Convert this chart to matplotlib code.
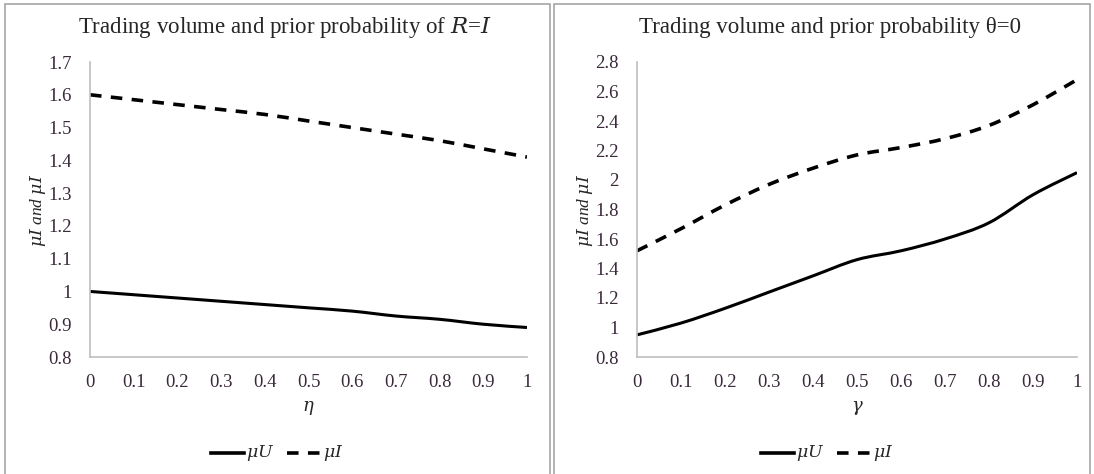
import matplotlib
matplotlib.use("Agg")
import matplotlib.pyplot as plt
from matplotlib.patches import Rectangle, PathPatch
from matplotlib.path import Path
from matplotlib.lines import Line2D

# Data
x_vals = [0, 0.1, 0.2, 0.3, 0.4, 0.5, 0.6, 0.7, 0.8, 0.9, 1]
x_tick_labels = ["0", "0.1", "0.2", "0.3", "0.4", "0.5", "0.6", "0.7", "0.8", "0.9", "1"]

eta_mu_u = [1.00, 0.99, 0.98, 0.97, 0.96, 0.95, 0.94, 0.925, 0.915, 0.90, 0.89]
eta_mu_i = [1.60, 1.585, 1.57, 1.555, 1.54, 1.52, 1.50, 1.48, 1.46, 1.435, 1.41]

gamma_mu_u = [0.95, 1.03, 1.13, 1.24, 1.35, 1.46, 1.52, 1.60, 1.71, 1.90, 2.05]
gamma_mu_i = [1.52, 1.67, 1.83, 1.97, 2.08, 2.17, 2.22, 2.28, 2.37, 2.51, 2.68]

left_yticks = [0.8, 0.9, 1, 1.1, 1.2, 1.3, 1.4, 1.5, 1.6, 1.7]
left_ylabels = ["0.8", "0.9", "1", "1.1", "1.2", "1.3", "1.4", "1.5", "1.6", "1.7"]
right_yticks = [0.8, 1, 1.2, 1.4, 1.6, 1.8, 2, 2.2, 2.4, 2.6, 2.8]
right_ylabels = ["0.8", "1", "1.2", "1.4", "1.6", "1.8", "2", "2.2", "2.4", "2.6", "2.8"]

plt.rcParams["font.family"] = ["Liberation Serif", "DejaVu Serif"]
plt.rcParams["mathtext.fontset"] = "dejavuserif"

W, H = 1094, 474
fig = plt.figure(figsize=(W / 100, H / 100), dpi=100)

# Panel frames
for (x0, x1) in [(5, 550), (554, 1090)]:
    fig.patches.append(Rectangle((x0 / W, -0.01), (x1 - x0) / W, (H - 4) / H + 0.01,
                                 transform=fig.transFigure, fill=False,
                                 edgecolor="#a6a6a6", linewidth=1.2))

text_color = "#262626"
tick_color = "#3a2a3a"
DASH = (0, (3.2, 2.6))


def smooth_path(xs, ys, tension=1 / 6):
    """Cubic Bezier path passing through every point (Catmull-Rom style)."""
    verts = [(xs[0], ys[0])]
    codes = [Path.MOVETO]
    n = len(xs)
    for i in range(n - 1):
        p0 = (xs[max(i - 1, 0)], ys[max(i - 1, 0)])
        p1 = (xs[i], ys[i])
        p2 = (xs[i + 1], ys[i + 1])
        p3 = (xs[min(i + 2, n - 1)], ys[min(i + 2, n - 1)])
        c1 = (p1[0] + (p2[0] - p0[0]) * tension, p1[1] + (p2[1] - p0[1]) * tension)
        c2 = (p2[0] - (p3[0] - p1[0]) * tension, p2[1] - (p3[1] - p1[1]) * tension)
        verts += [c1, c2, p2]
        codes += [Path.CURVE4] * 3
    return Path(verts, codes)


def make_panel(ax_left, ax_right, yticks, ylabels, ymin, ymax, mu_u, mu_i,
               title, xlabel, title_cx, legend_cx):
    top, bottom = 62, 357
    ax = fig.add_axes([ax_left / W, 1 - bottom / H, (ax_right - ax_left) / W,
                       (bottom - top) / H])
    ax.add_patch(PathPatch(smooth_path(x_vals, mu_u), fill=False, edgecolor="black",
                           linewidth=2.2, capstyle="butt"))
    ax.add_patch(PathPatch(smooth_path(x_vals, mu_i), fill=False, edgecolor="black",
                           linewidth=2.6, linestyle=DASH, capstyle="butt"))
    ax.set_xlim(0, 1)
    ax.set_ylim(ymin, ymax)
    ax.set_xticks(x_vals)
    ax.set_xticklabels(x_tick_labels)
    ax.set_yticks(yticks)
    ax.set_yticklabels(ylabels)
    ax.tick_params(length=0, labelsize=13.5, colors=tick_color)
    ax.tick_params(axis="x", pad=12)
    ax.tick_params(axis="y", pad=13)
    for s in ["top", "right"]:
        ax.spines[s].set_visible(False)
    for s in ["left", "bottom"]:
        ax.spines[s].set_color("#bfbfbf")
        ax.spines[s].set_linewidth(1.2)
    ax.set_xlabel(xlabel, fontsize=13, color=text_color, labelpad=6)
    fig.text(ax_left / W - 52 / W, 1 - 210 / H, r"$\mu I$ and $\mu I$",
             rotation=90, ha="center", va="center", fontsize=12.5,
             color=text_color, style="italic")
    fig.text(title_cx / W, 1 - 27 / H, title, ha="center", va="center",
             fontsize=16.5, color=text_color)
    # legend
    ly = 1 - 453 / H
    lx = legend_cx / W
    fig.lines.append(Line2D([lx - 121 / W, lx - 88 / W], [ly, ly],
                            transform=fig.transFigure, color="black", linewidth=2.6))
    fig.text(lx - 86 / W, ly, r"$\mu U$", ha="left", va="center", fontsize=12.5,
             color=text_color)
    fig.lines.append(Line2D([lx - 45 / W, lx - 12 / W], [ly, ly],
                            transform=fig.transFigure, color="black", linewidth=2.6,
                            linestyle=DASH, dash_capstyle="butt"))
    fig.text(lx - 9 / W, ly, r"$\mu I$", ha="left", va="center", fontsize=12.5,
             color=text_color)
    return ax


make_panel(90, 527, left_yticks, left_ylabels, 0.8, 1.7, eta_mu_u, eta_mu_i,
           r"Trading volume and prior probability of $R$=$I$", r"$\eta$", 285, 332)
make_panel(637, 1077, right_yticks, right_ylabels, 0.8, 2.8, gamma_mu_u, gamma_mu_i,
           "Trading volume and prior probability θ=0", r"$\gamma$", 830, 882)

fig.savefig("out.png", dpi=100)
